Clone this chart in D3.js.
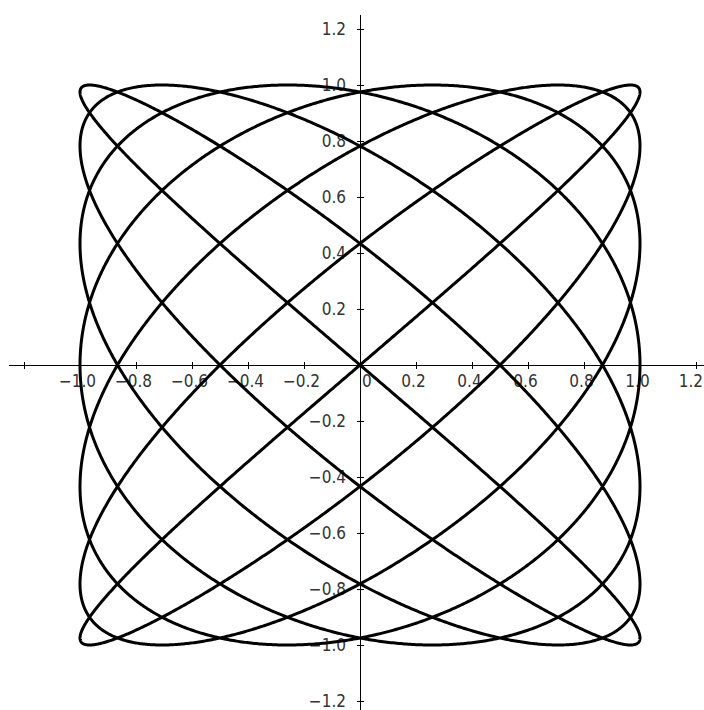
<!DOCTYPE html>
<html>
<head>
<meta charset="utf-8">
<script src="https://cdn.jsdelivr.net/npm/d3@7"></script>
<style>
html,body{margin:0;padding:0;background:#fff;}
svg{display:block;}
text{font-family:"Liberation Sans Narrow","Arial Narrow","DejaVu Sans Condensed",sans-serif;font-size:17px;fill:#333;}
</style>
</head>
<body>
<svg id="chart" width="704" height="710"></svg>
<script>
// Lissajous parameters: x = sin(fx*t + phase), y = sin(fy*t)
const frequencies = [7, 6];      // [x frequency, y frequency]
const phases = [0, 0];           // [x phase, y phase]
const amplitudes = [1, 1];
const xTicks = [-1.2, -1.0, -0.8, -0.6, -0.4, -0.2, 0, 0.2, 0.4, 0.6, 0.8, 1.0, 1.2];
const xTickLabels = ["", "−1.0", "−0.8", "−0.6", "−0.4", "−0.2", "0", "0.2", "0.4", "0.6", "0.8", "1.0", "1.2"];
const yTicks = [1.2, 1.0, 0.8, 0.6, 0.4, 0.2, -0.2, -0.4, -0.6, -0.8, -1.0, -1.2];
const yTickLabels = ["1.2", "1.0", "0.8", "0.6", "0.4", "0.2", "−0.2", "−0.4", "−0.6", "−0.8", "−1.0", "−1.2"];

const svg = d3.select("#chart");
const W = 704, H = 710;
const x = d3.scaleLinear().domain([-1, 1]).range([80, 640]);
const y = d3.scaleLinear().domain([-1, 1]).range([645, 85]);

// axes lines
svg.append("line").attr("x1", 9).attr("x2", W).attr("y1", y(0)).attr("y2", y(0))
  .attr("stroke", "#000").attr("stroke-width", 1).attr("shape-rendering", "crispEdges");
svg.append("line").attr("x1", x(0)).attr("x2", x(0)).attr("y1", 15).attr("y2", H)
  .attr("stroke", "#000").attr("stroke-width", 1).attr("shape-rendering", "crispEdges");

// x ticks
const xt = svg.append("g");
xTicks.forEach((v, i) => {
  if (v === 0) return;
  xt.append("line").attr("x1", x(v)).attr("x2", x(v)).attr("y1", y(0) - 3.5).attr("y2", y(0) + 3.5)
    .attr("stroke", "#000").attr("shape-rendering", "crispEdges");
  if (xTickLabels[i]) {
    const t = xt.append("text").attr("x", x(v) - 2.5).attr("y", y(0) + 22).attr("text-anchor", "middle").text(xTickLabels[i]);
    const bb = t.node().getBBox();
    if (bb.x + bb.width > W - 1) t.attr("text-anchor", "end").attr("x", W - 1);
  }
});
xTicks.forEach((v, i) => {
  if (v !== 0) return;
  xt.append("text").attr("x", x(0) + 2).attr("y", y(0) + 22).attr("text-anchor", "start").text(xTickLabels[i]);
});

// y ticks
const yt = svg.append("g");
yTicks.forEach((v, i) => {
  yt.append("line").attr("x1", x(0) - 3.5).attr("x2", x(0) + 3.5).attr("y1", y(v)).attr("y2", y(v))
    .attr("stroke", "#000").attr("shape-rendering", "crispEdges");
  yt.append("text").attr("x", x(0) - 14).attr("y", y(v)).attr("dy", "0.36em").attr("text-anchor", "end").text(yTickLabels[i]);
});

// curve
const ts = d3.range(0, 2 * Math.PI + 0.0005, 0.001);
const pts = ts.map(t => [amplitudes[0] * Math.sin(frequencies[0] * t + phases[0]),
                         amplitudes[1] * Math.sin(frequencies[1] * t + phases[1])]);
const line = d3.line().x(d => x(d[0])).y(d => y(d[1]));
svg.append("path").datum(pts).attr("d", line).attr("fill", "none")
  .attr("stroke", "#000").attr("stroke-width", 3).attr("stroke-linejoin", "round");
</script>
</body>
</html>
